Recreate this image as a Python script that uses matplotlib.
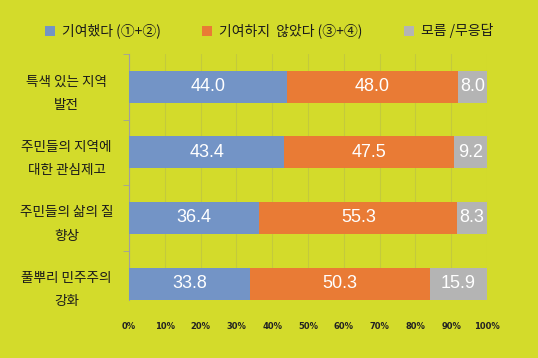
import numpy as np
import matplotlib.pyplot as plt

plt.rcParams['font.family'] = ['Noto Sans CJK KR', 'DejaVu Sans']

categories = ["특색 있는 지역\n발전", "주민들의 지역에\n대한 관심제고",
              "주민들의 삶의 질\n향상", "풀뿌리 민주주의\n강화"]
yes_vals = [44.0, 43.4, 36.4, 33.8]
no_vals = [48.0, 47.5, 55.3, 50.3]
dk_vals = [8.0, 9.2, 8.3, 15.9]
series_names = ["기여했다 (①+②)", "기여하지  않았다 (③+④)", "모름 /무응답"]
colors = ["#7394C6", "#E97B35", "#B4B4B4"]
bg = "#D3DB2B"

fig = plt.figure(figsize=(5.38, 3.58), dpi=100, facecolor=bg)
ax = fig.add_axes([129/538, 58/358, 358/538, 246/358], facecolor=bg)

y = np.arange(len(categories))
left = np.zeros(len(categories))
for vals, name, c in zip([yes_vals, no_vals, dk_vals], series_names, colors):
    vals = np.array(vals)
    ax.barh(y, vals, left=left, height=0.49, color=c, label=name, zorder=3)
    for yi, l, v in zip(y, left, vals):
        ax.text(l + v / 2, yi, f"{v:.1f}", ha="center", va="center",
                color="white", fontsize=13, family="Liberation Sans", zorder=4)
    left = left + vals

ax.set_xlim(0, 100)
ax.set_ylim(3.25, -0.5)
ax.set_xticks(np.arange(0, 101, 10))
ax.set_xticklabels([f"{t}%" for t in range(0, 101, 10)], fontsize=6,
                   fontweight="bold", color="#222222", family="DejaVu Sans")
ax.tick_params(axis="x", length=0, pad=16)
ax.grid(axis="x", color="#C3CA3C", linewidth=0.8, zorder=0)

ax.set_yticks(y)
ax.set_yticklabels(categories, fontsize=9.8, color="#1A1A1A", fontweight="medium",
                   ha="center", linespacing=1.85)
ax.tick_params(axis="y", length=0, pad=45)
# small ticks at category boundaries
ax.set_yticks(np.arange(-0.5, 3.5, 1), minor=True)
ax.tick_params(axis="y", which="minor", length=4, color="#A0A0A0", direction="out")

for s in ["top", "right", "bottom"]:
    ax.spines[s].set_visible(False)
ax.spines["left"].set_color("#A0A0A0")

fig.legend(loc="center", bbox_to_anchor=(0.5, 1 - 31/358), ncol=3,
           frameon=False, fontsize=10, handlelength=0.7, handleheight=0.7,
           columnspacing=3.0, handletextpad=0.5, labelcolor="#1A1A1A")

fig.savefig("out.png", dpi=100, facecolor=bg)
